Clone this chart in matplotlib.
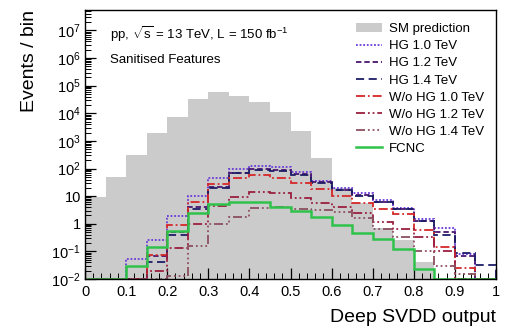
import numpy as np
import matplotlib
matplotlib.use("Agg")
import matplotlib.pyplot as plt
from matplotlib.lines import Line2D
from matplotlib.patches import Patch
from matplotlib.ticker import FixedLocator, FixedFormatter, MultipleLocator, LogLocator, NullFormatter

plt.rcParams['font.family'] = ['Liberation Sans', 'DejaVu Sans']
plt.rcParams['mathtext.fontset'] = 'custom'
plt.rcParams['mathtext.rm'] = 'Liberation Sans'
plt.rcParams['mathtext.it'] = 'Liberation Sans:italic'
plt.rcParams['mathtext.bf'] = 'Liberation Sans:bold'

# ---- data ----
bin_edges = np.round(np.arange(0, 1.0001, 0.05), 2)
sm_prediction = [9.4, 50, 320, 1900, 7200, 33000, 60000, 43000, 26000, 11000,
                 2200, 250, 20, 5.5, 0.7, 0.25, 0.04, 0, 0, 0]
hg_10 = [0, 0, 0.052, 0.26, 1.9, 10, 47, 95, 126, 115,
         72, 35, 19, 12.6, 7.2, 3.8, 1.5, 0.71, 0.08, 0]
hg_12 = [0, 0, 0, 0.07, 0.5, 4, 22, 71, 95, 89,
         63, 32, 17, 11, 6.3, 3.5, 1.3, 0.5, 0.07, 0]
hg_14 = [0, 0, 0, 0.043, 0.38, 3.5, 19, 68, 91, 83,
         59, 30, 16.6, 10.5, 6.0, 3.3, 1.26, 0.4, 0.09, 0.032]
wo_hg_10 = [0, 0, 0, 0.074, 0.87, 6.3, 28, 45, 60, 47,
            30, 18, 10, 5.5, 3.3, 2.2, 0.6, 0.15, 0.026, 0]
wo_hg_12 = [0, 0, 0, 0.019, 0.13, 1.0, 4.4, 9.5, 13.8, 12.6,
            8.7, 5.6, 4.2, 2.5, 1.15, 0.63, 0.32, 0.1, 0, 0]
wo_hg_14 = [0, 0, 0, 0, 0.013, 0.16, 1.0, 1.8, 3.8, 4.1,
            3.5, 3.2, 2.7, 1.6, 0.66, 0.32, 0.1, 0.03, 0.015, 0]
fcnc = [0, 0, 0.03, 0.14, 0.57, 2.4, 5.2, 6.4, 6.4, 4.1,
        2.8, 1.8, 0.87, 0.47, 0.27, 0.12, 0.023, 0, 0, 0]

labels = ["SM prediction", "HG 1.0 TeV", "HG 1.2 TeV", "HG 1.4 TeV",
          "W/o HG 1.0 TeV", "W/o HG 1.2 TeV", "W/o HG 1.4 TeV", "FCNC"]
x_ticks = [0, 0.1, 0.2, 0.3, 0.4, 0.5, 0.6, 0.7, 0.8, 0.9, 1.0]
x_tick_labels = ["0", "0.1", "0.2", "0.3", "0.4", "0.5", "0.6", "0.7", "0.8", "0.9", "1"]
y_ticks = [1e-2, 1e-1, 1, 10, 1e2, 1e3, 1e4, 1e5, 1e6, 1e7]
y_tick_labels = [r"$10^{-2}$", r"$10^{-1}$", "1", "10", r"$10^{2}$", r"$10^{3}$",
                 r"$10^{4}$", r"$10^{5}$", r"$10^{6}$", r"$10^{7}$"]

YMIN, YMAX = 1e-2, 5.5e7

fig = plt.figure(figsize=(5.07, 3.28), dpi=100)
ax = fig.add_axes([85/507, 1-279/328, (496-85)/507, (279-10)/328])
ax.set_yscale('log')
ax.set_xlim(0, 1)
ax.set_ylim(YMIN, YMAX)

def clip(v):
    return np.maximum(np.asarray(v, float), YMIN)

ax.stairs(clip(sm_prediction), bin_edges, fill=True, color='#cbcbcb', baseline=YMIN, zorder=1)

styles = [
    (hg_10, '#6a3ad8', (0, (1, 1.0)), 1.3),
    (hg_12, '#4a1670', (0, (3, 1.6)), 1.3),
    (hg_14, '#1c1c66', (0, (4.5, 2.5)), 1.3),
    (wo_hg_10, '#d62828', (0, (5, 1.6, 1, 1.6)), 1.3),
    (wo_hg_12, '#9a2040', (0, (5, 1.6, 1, 1.6, 1, 1.6)), 1.3),
    (wo_hg_14, '#8c5060', (0, (5, 1.6, 1, 1.6, 1, 1.6, 1, 1.6)), 1.3),
]
handles = [Patch(facecolor='#cbcbcb', edgecolor='none')]
for vals, col, ls, lw in styles:
    ax.stairs(clip(vals), bin_edges, color=col, linestyle=ls, linewidth=lw, zorder=3)
    handles.append(Line2D([], [], color=col, linestyle=ls, linewidth=lw))
ax.stairs(clip(fcnc), bin_edges, color='#2fc24a', linewidth=1.8, zorder=4)
handles.append(Line2D([], [], color='#2fc24a', linewidth=1.8))

# ticks
ax.xaxis.set_major_locator(FixedLocator(x_ticks))
ax.xaxis.set_major_formatter(FixedFormatter(x_tick_labels))
ax.xaxis.set_minor_locator(MultipleLocator(0.02))
ax.yaxis.set_major_locator(FixedLocator(y_ticks))
ax.yaxis.set_major_formatter(FixedFormatter(y_tick_labels))
ax.yaxis.set_minor_locator(LogLocator(base=10, subs=np.arange(2, 10), numticks=30))
ax.yaxis.set_minor_formatter(NullFormatter())
ax.tick_params(which='both', direction='in', top=False, right=False, labelsize=10.5, colors='black')
ax.tick_params(which='major', length=8, width=0.9)
ax.tick_params(which='minor', length=4, width=0.7)
ax.tick_params(axis='x', pad=4)
ax.tick_params(axis='y', pad=3)
for s in ax.spines.values():
    s.set_linewidth(1.0)
    s.set_zorder(10)

fig.text(496/507, 1-318/328, "Deep SVDD output", ha='right', va='center', fontsize=14)
fig.text(30/507, 1-10/328, "Events / bin", ha='center', va='top', rotation=90, fontsize=14)

fig.text(110/507, 1-34/328, r"pp, $\sqrt{\mathrm{s}}$ = 13 TeV, L = 150 fb$^{-1}$",
         ha='left', va='center', fontsize=9.5)
fig.text(110/507, 1-60/328, "Sanitised Features", ha='left', va='center', fontsize=9.5)

leg = ax.legend(handles, labels, loc='upper left', bbox_to_anchor=(356/507, 1-23/328),
                bbox_transform=fig.transFigure, frameon=False, fontsize=9.5,
                handlelength=2.0, handletextpad=0.5, labelspacing=0.37, borderpad=0,
                borderaxespad=0)

fig.savefig("out.png", dpi=100)
